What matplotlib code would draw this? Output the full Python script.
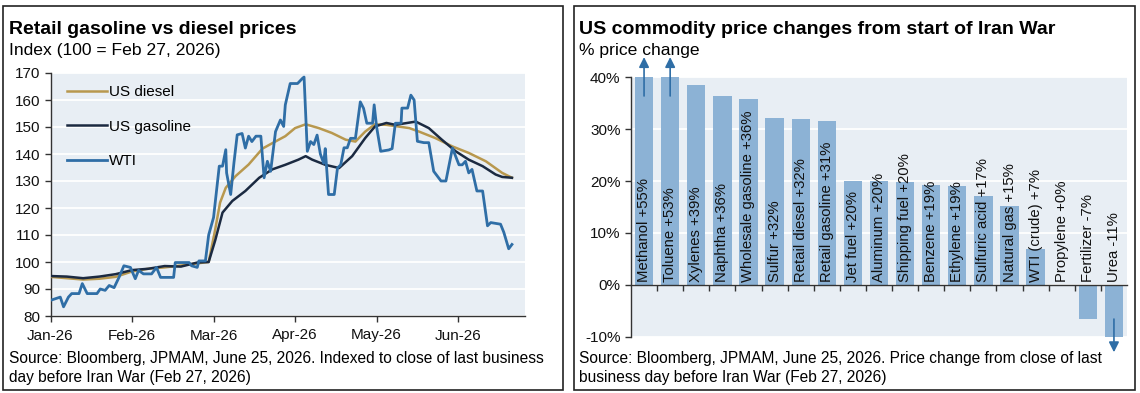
import numpy as np
import matplotlib
matplotlib.use("Agg")
import matplotlib.pyplot as plt
from matplotlib.patches import Rectangle

plt.rcParams['font.family'] = ['Liberation Sans', 'DejaVu Sans']

# ---------------- Left chart data (x = months since Jan 1, 2026) ----------------
month_labels = ["Jan-26", "Feb-26", "Mar-26", "Apr-26", "May-26", "Jun-26"]

wti_x = [0.00, 0.12, 0.16, 0.22, 0.26, 0.35, 0.39, 0.45, 0.57, 0.61, 0.67, 0.72, 0.78,
         0.84, 0.90, 0.98, 1.04, 1.08, 1.14, 1.24, 1.30, 1.35, 1.51, 1.53, 1.70, 1.73,
         1.80, 1.82, 1.90, 1.94, 2.00, 2.07, 2.11, 2.15, 2.16, 2.21, 2.25, 2.29, 2.35,
         2.39, 2.43, 2.47, 2.52, 2.58, 2.62, 2.66, 2.70, 2.76, 2.82, 2.86, 2.88, 2.94,
         3.03, 3.09, 3.11, 3.15, 3.19, 3.23, 3.27, 3.31, 3.35, 3.37, 3.41, 3.48, 3.52,
         3.56, 3.60, 3.64, 3.68, 3.74, 3.80, 3.84, 3.88, 3.95, 3.97, 4.00, 4.05, 4.15,
         4.19, 4.23, 4.30, 4.31, 4.38, 4.42, 4.46, 4.50, 4.58, 4.64, 4.70, 4.79, 4.85,
         4.93, 5.01, 5.05, 5.09, 5.13, 5.17, 5.23, 5.30, 5.36, 5.40, 5.52, 5.56, 5.62,
         5.66]
wti_y = [85.8, 87.0, 83.4, 87.0, 88.3, 88.3, 92.0, 88.3, 88.3, 90.0, 89.5, 91.3, 90.5,
         94.3, 98.6, 98.0, 93.8, 96.9, 95.6, 95.6, 98.0, 94.3, 94.3, 99.8, 99.8, 98.6,
         98.0, 100.4, 100.4, 110.0, 116.5, 135.5, 135.5, 141.6, 133.0, 125.0, 136.7,
         147.1, 147.6, 142.2, 146.6, 144.6, 146.6, 146.6, 131.2, 137.3, 133.6, 148.3,
         152.6, 150.2, 158.2, 166.1, 166.1, 168.0, 168.5, 141.0, 144.6, 143.5, 147.0,
         140.0, 136.6, 142.0, 125.0, 125.0, 134.8, 136.0, 142.3, 142.3, 145.8, 145.8,
         159.3, 156.9, 151.4, 151.4, 158.2, 150.0, 141.0, 141.5, 142.0, 151.4, 151.4,
         157.0, 157.0, 161.8, 160.0, 144.7, 144.2, 144.2, 133.6, 130.0, 130.0, 142.2,
         136.0, 136.0, 137.3, 133.0, 134.3, 126.3, 126.3, 113.4, 114.6, 114.0, 111.0,
         104.9, 106.5]

diesel_x = [0.00, 0.20, 0.40, 0.60, 0.80, 1.00, 1.20, 1.40, 1.60, 1.80, 1.94, 2.02,
            2.08, 2.15, 2.27, 2.43, 2.60, 2.72, 2.88, 3.00, 3.13, 3.29, 3.45, 3.62,
            3.74, 3.86, 3.98, 4.12, 4.40, 4.52, 4.72, 4.93, 5.13, 5.34, 5.54, 5.66]
diesel_y = [94.5, 94.0, 93.5, 93.8, 94.5, 96.5, 97.5, 98.0, 98.7, 99.5, 100.0, 112.0,
            122.0, 127.5, 131.8, 136.1, 142.0, 144.0, 146.6, 149.6, 151.0, 149.6,
            147.8, 145.3, 144.6, 148.3, 151.0, 150.8, 149.6, 148.3, 145.9, 142.8,
            140.4, 137.3, 133.0, 131.2]

gas_x = [0.00, 0.20, 0.40, 0.60, 0.80, 1.00, 1.20, 1.40, 1.60, 1.80, 1.94, 2.02, 2.11,
         2.23, 2.39, 2.56, 2.72, 2.88, 3.04, 3.13, 3.21, 3.37, 3.54, 3.70, 3.86, 3.98,
         4.12, 4.23, 4.48, 4.64, 4.80, 4.97, 5.13, 5.30, 5.46, 5.54, 5.66]
gas_y = [94.8, 94.6, 94.0, 94.6, 95.5, 97.0, 97.5, 98.5, 98.3, 99.8, 100.0, 108.0,
         118.3, 122.6, 126.3, 131.2, 134.3, 136.0, 137.9, 139.2, 137.9, 136.0, 134.8,
         139.2, 145.9, 150.2, 151.5, 150.8, 152.0, 149.6, 145.3, 141.0, 137.9, 135.5,
         132.4, 131.5, 131.2]

# ---------------- Right chart data ----------------
commodities = ["Methanol", "Toluene", "Xylenes", "Naphtha", "Wholesale gasoline",
               "Sulfur", "Retail diesel", "Retail gasoline", "Jet fuel", "Aluminum",
               "Shipping fuel", "Benzene", "Ethylene", "Sulfuric acid", "Natural gas",
               "WTI (crude)", "Propylene", "Fertilizer", "Urea"]
label_pct = [55, 53, 39, 36, 36, 32, 32, 31, 20, 20, 20, 19, 19, 17, 15, 7, 0, -7, -11]
bar_pct = [55, 53, 38.6, 36.4, 35.9, 32.2, 32.0, 31.5, 20.1, 20.0, 19.9, 19.2, 19.0,
           17.2, 15.1, 7.0, 0.0, -6.6, -11.0]
y_ticks_pct = [-10, 0, 10, 20, 30, 40]

# ---------------- Figure ----------------
W, H = 1140, 393
fig = plt.figure(figsize=(W / 100, H / 100), dpi=100)
fig.patch.set_facecolor("white")

def fx(px):
    return px / W

def fy(py):
    return 1 - py / H

for x0, x1 in [(3, 563), (574, 1135)]:
    fig.add_artist(Rectangle((fx(x0), fy(390)), (x1 - x0) / W, 384 / H,
                             transform=fig.transFigure, fill=False,
                             edgecolor="#222222", lw=1.2))

bg = "#e8eef4"
axis_col = "#333333"
c_diesel = "#b8984e"
c_gas = "#1b2a41"
c_wti = "#2f6ea6"
title_fs = 14
sub_fs = 12.6
tick_fs = 11
src_fs = 11.2

# ---- Left axes
ax1 = fig.add_axes([fx(50.5), fy(316), (525 - 50.5) / W, (316 - 73) / H])
ax1.set_facecolor(bg)
ax1.plot(diesel_x, diesel_y, color=c_diesel, lw=1.8, label="US diesel", zorder=3)
ax1.plot(gas_x, gas_y, color=c_gas, lw=1.8, label="US gasoline", zorder=4)
ax1.plot(wti_x, wti_y, color=c_wti, lw=2.0, label="WTI", zorder=5)
ax1.set_xlim(0, 5.82)
ax1.set_ylim(80, 170)
ax1.set_yticks(range(80, 171, 10))
ax1.set_xticks(range(len(month_labels)))
ax1.set_xticklabels(month_labels)
ax1.grid(axis="y", color="white", lw=1.3)
ax1.set_axisbelow(True)
for s in ["top", "right"]:
    ax1.spines[s].set_visible(False)
for s in ["left", "bottom"]:
    ax1.spines[s].set_color(axis_col)
    ax1.spines[s].set_linewidth(1.0)
ax1.tick_params(axis="both", labelsize=tick_fs, color=axis_col, length=4, width=1.0,
                labelcolor="#111111")
ax1.tick_params(axis="x", pad=5)
leg = ax1.legend(loc="upper left", bbox_to_anchor=(0.035, 0.95), frameon=False,
                 fontsize=11, handlelength=2.6, handletextpad=0.15,
                 labelspacing=1.35, borderpad=0, borderaxespad=0)

fig.text(fx(9), fy(34), "Retail gasoline vs diesel prices", fontsize=title_fs,
         fontweight="bold", va="baseline", ha="left")
fig.text(fx(9), fy(55), "Index (100 = Feb 27, 2026)", fontsize=sub_fs,
         va="baseline", ha="left")
fig.text(fx(9), fy(382),
         "Source: Bloomberg, JPMAM, June 25, 2026. Indexed to close of last business\n"
         "day before Iran War (Feb 27, 2026)",
         fontsize=src_fs, va="baseline", ha="left", linespacing=1.37)

# ---- Right axes
ax2 = fig.add_axes([fx(631), fy(336.7), (1127 - 631) / W, (336.7 - 77.3) / H])
ax2.set_facecolor(bg)
bar_col = "#8cb2d5"
arrow_col = "#2f6ea6"
xs = np.arange(len(commodities))
ax2.bar(xs, bar_pct, width=0.7, color=bar_col, zorder=2)
ax2.set_xlim(-0.5, len(commodities) - 0.5)
ax2.set_ylim(-10, 40)
ax2.set_yticks(y_ticks_pct)
ax2.set_yticklabels([f"{v}%" for v in y_ticks_pct])
ax2.grid(axis="y", color="white", lw=1.3)
ax2.set_axisbelow(True)
ax2.set_xticks(np.arange(0.5, len(commodities) - 1, 1))
ax2.set_xticklabels([])
for s in ["top", "right"]:
    ax2.spines[s].set_visible(False)
ax2.spines["bottom"].set_position(("data", 0))
for s in ["left", "bottom"]:
    ax2.spines[s].set_color(axis_col)
    ax2.spines[s].set_linewidth(1.0)
ax2.tick_params(axis="both", labelsize=tick_fs, color=axis_col, length=4, width=1.0,
                labelcolor="#111111")

for i, (name, p) in enumerate(zip(commodities, label_pct)):
    sign = "+" if p >= 0 else ""
    ax2.text(i, 0.6, f"{name} {sign}{p}%", rotation=90, ha="center", va="bottom",
             fontsize=10.7, color="#111111", zorder=4)

ylo, yhi = ax2.get_ylim()
for i, p in enumerate(bar_pct):
    if p > yhi:
        ax2.annotate("", xy=(i, 43.9), xytext=(i, 36.4), annotation_clip=False,
                     arrowprops=dict(arrowstyle="-|>,head_width=0.3,head_length=0.6",
                                     color=arrow_col, lw=1.2, shrinkA=0, shrinkB=0),
                     zorder=5)
    elif p < ylo:
        ax2.annotate("", xy=(i, -13.0), xytext=(i, -6.6), annotation_clip=False,
                     arrowprops=dict(arrowstyle="-|>,head_width=0.3,head_length=0.6",
                                     color=arrow_col, lw=1.2, shrinkA=0, shrinkB=0),
                     zorder=5)

fig.text(fx(579), fy(34), "US commodity price changes from start of Iran War",
         fontsize=title_fs, fontweight="bold", va="baseline", ha="left")
fig.text(fx(579), fy(55), "% price change", fontsize=sub_fs, va="baseline", ha="left")
fig.text(fx(579), fy(382),
         "Source: Bloomberg, JPMAM, June 25, 2026. Price change from close of last\n"
         "business day before Iran War (Feb 27, 2026)",
         fontsize=src_fs, va="baseline", ha="left", linespacing=1.37)

fig.savefig("out.png", dpi=100, facecolor="white")
